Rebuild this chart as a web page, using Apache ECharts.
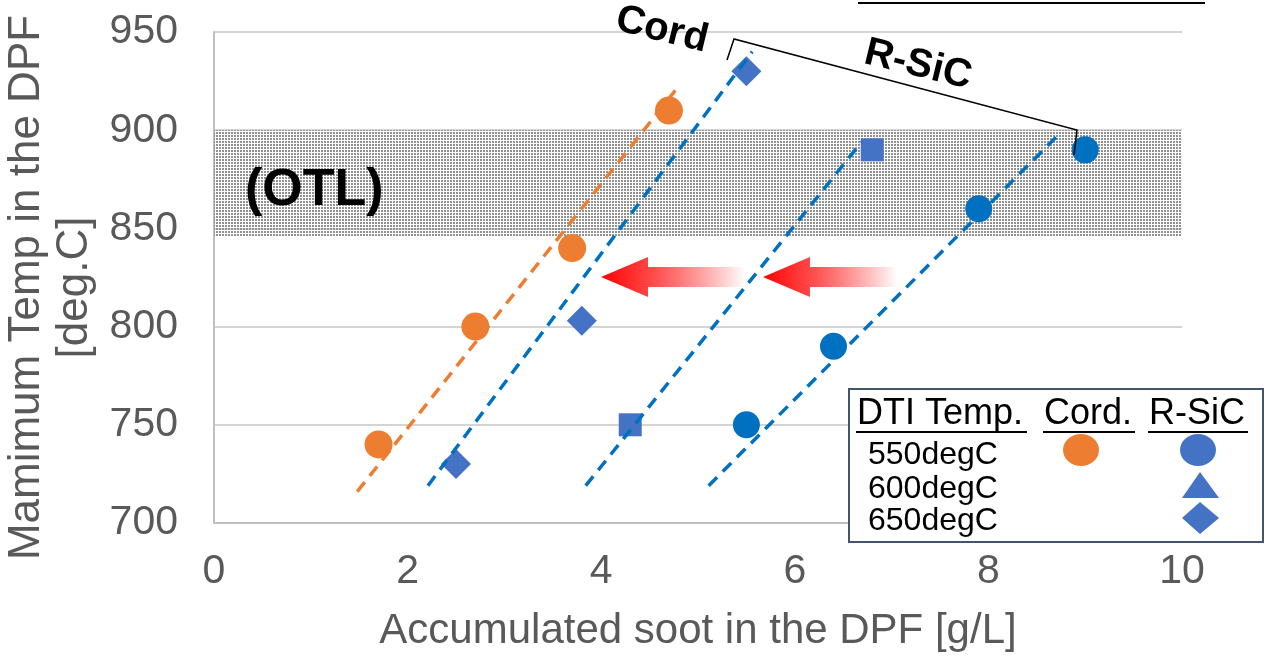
<!DOCTYPE html>
<html>
<head>
<meta charset="utf-8">
<script src="https://cdn.jsdelivr.net/npm/echarts@6/dist/echarts.min.js"></script>
<style>
  html, body { margin: 0; padding: 0; background: #fff; }
  #chart { width: 1267px; height: 663px; }
</style>
</head>
<body>
<div id="chart"></div>
<script>
// measured points
var cordX = [1.7, 2.7, 3.7, 4.7];
var cordY = [740, 800, 840, 910];
var sic550X = [5.5, 6.4, 7.9, 9.0];
var sic550Y = [750, 790, 860, 890];
var sic600X = [4.3, 6.8];
var sic600Y = [750, 890];
var sic650X = [2.5, 3.8, 5.5];
var sic650Y = [730, 803, 930];

// dashed trend lines, end points
var cordTrendX = [1.48, 4.81];
var cordTrendY = [716, 923];
var sic650TrendX = [2.21, 5.56];
var sic650TrendY = [719, 940];
var sic600TrendX = [3.84, 6.69];
var sic600TrendY = [719, 894];
var sic550TrendX = [5.11, 8.71];
var sic550TrendY = [719, 897];

// OTL band
var otlBand = [846, 900];

var xTicks = [0, 2, 4, 6, 8, 10];
var yTicks = [700, 750, 800, 850, 900, 950];

var orange = '#ED7D31';
var blue = '#4472C4';
var blueDark = '#0070C0';
var grey = '#595959';
var font = '"Liberation Sans", Arial, sans-serif';

function pairs(xs, ys) {
  return xs.map(function(x, i) { return [x, ys[i]]; });
}

// dotted fill for the OTL band
var dots = document.createElement('canvas');
dots.width = 3; dots.height = 3;
var dctx = dots.getContext('2d');
dctx.fillStyle = '#909090';
dctx.fillRect(0, 0, 2, 2);

function trend(xs, ys, color) {
  return {
    type: 'line',
    data: pairs(xs, ys),
    symbol: 'none',
    z: 5,
    silent: true,
    lineStyle: { color: color, width: 3.5, type: [12, 8] }
  };
}

function arrow(tip, base, tail, cy) {
  return {
    type: 'polygon',
    z: 100,
    shape: { points: [
      [tip, cy], [base, cy - 20], [base, cy - 10], [tail, cy - 10],
      [tail, cy + 10], [base, cy + 10], [base, cy + 20]
    ] },
    style: {
      fill: new echarts.graphic.LinearGradient(0, 0, 1, 0, [
        { offset: 0, color: '#ff0000' },
        { offset: 0.35, color: 'rgba(255,40,40,0.85)' },
        { offset: 1, color: 'rgba(255,0,0,0)' }
      ])
    }
  };
}

function txt(x, y, s, size, opts) {
  opts = opts || {};
  return {
    type: 'text', x: x, y: y, z: 101,
    rotation: opts.rotation || 0,
    style: {
      text: s,
      font: (opts.bold ? 'bold ' : '') + size + 'px ' + font,
      fill: '#000',
      textAlign: opts.align || 'left',
      textVerticalAlign: 'middle'
    }
  };
}

function hline(x1, x2, y) {
  return { type: 'line', z: 101, shape: { x1: x1, y1: y, x2: x2, y2: y }, style: { stroke: '#000', lineWidth: 2 } };
}

var chart = echarts.init(document.getElementById('chart'), null, { renderer: 'canvas' });
chart.setOption({
  animation: false,
  grid: { left: 214, right: 85, top: 32, bottom: 140, outerBoundsMode: 'none' },
  xAxis: {
    type: 'value',
    min: xTicks[0], max: xTicks[xTicks.length - 1], interval: 2,
    name: 'Accumulated soot in the DPF [g/L]',
    nameLocation: 'middle',
    nameGap: 87,
    nameTextStyle: { color: grey, fontSize: 42, fontFamily: font },
    axisLabel: { color: grey, fontSize: 41, fontFamily: font, margin: 28 },
    axisLine: { lineStyle: { color: '#bfbfbf', width: 2 } },
    axisTick: { show: false },
    splitLine: { show: false }
  },
  yAxis: {
    type: 'value',
    min: yTicks[0], max: yTicks[yTicks.length - 1], interval: 50,
    name: 'Mamimum Temp in the DPF\n[deg.C]',
    nameLocation: 'middle',
    nameGap: 115,
    nameRotate: 90,
    nameTextStyle: { color: grey, fontSize: 44, fontFamily: font, lineHeight: 48, padding: [0, 20, 0, 0] },
    axisLabel: { color: grey, fontSize: 41, fontFamily: font, margin: 36 },
    axisLine: { show: true, lineStyle: { color: '#bfbfbf', width: 2 } },
    axisTick: { show: false },
    splitLine: { lineStyle: { color: '#d4d4d4', width: 2 } }
  },
  series: [
    {
      type: 'scatter', data: [], z: 1, silent: true,
      markArea: {
        silent: true,
        itemStyle: { color: { image: dots, repeat: 'repeat' } },
        data: [[{ yAxis: otlBand[0] }, { yAxis: otlBand[1] }]]
      }
    },
    { type: 'scatter', data: pairs(cordX, cordY), symbol: 'circle', symbolSize: 28, z: 3, itemStyle: { color: orange, opacity: 1 } },
    { type: 'scatter', data: pairs(sic550X, sic550Y), symbol: 'circle', symbolSize: 27, z: 3, itemStyle: { color: blueDark, opacity: 1 } },
    { type: 'scatter', data: pairs(sic600X, sic600Y), symbol: 'rect', symbolSize: 23, z: 3, itemStyle: { color: blue, opacity: 1 } },
    { type: 'scatter', data: pairs(sic650X, sic650Y), symbol: 'diamond', symbolSize: 30, z: 3, itemStyle: { color: blue, opacity: 1 } },
    trend(cordTrendX, cordTrendY, orange),
    trend(sic650TrendX, sic650TrendY, blueDark),
    trend(sic600TrendX, sic600TrendY, blueDark),
    trend(sic550TrendX, sic550TrendY, blueDark)
  ],
  graphic: [
    // cut-off heading underline
    { type: 'line', shape: { x1: 858, y1: 3, x2: 1205, y2: 3 }, style: { stroke: '#000', lineWidth: 2 } },
    txt(245, 191, '(OTL)', 52, { bold: true }),
    txt(662, 30, 'Cord', 40, { bold: true, align: 'center', rotation: -0.24 }),
    txt(918, 65, 'R-SiC', 40, { bold: true, align: 'center', rotation: -0.24 }),
    {
      type: 'polyline', z: 100,
      shape: { points: [[727, 60], [734, 39], [1077, 130], [1074, 155]] },
      style: { stroke: '#000', lineWidth: 1.5, fill: null }
    },
    arrow(601, 648, 745, 277),
    arrow(763, 810, 897, 277),
    // legend table
    { type: 'rect', z: 100, shape: { x: 849, y: 389, width: 414, height: 153 }, style: { fill: '#fff', stroke: '#44546A', lineWidth: 2 } },
    txt(857, 414, 'DTI Temp.', 36),
    txt(1044, 414, 'Cord.', 36),
    txt(1149, 414, 'R-SiC', 36),
    hline(856, 1027, 432),
    hline(1043, 1135, 432),
    hline(1148, 1248, 432),
    txt(868, 455, '550degC', 32),
    txt(868, 489, '600degC', 32),
    txt(868, 521, '650degC', 32),
    { type: 'ellipse', z: 101, shape: { cx: 1081, cy: 450, rx: 18, ry: 16 }, style: { fill: orange } },
    { type: 'ellipse', z: 101, shape: { cx: 1198, cy: 450, rx: 18, ry: 16 }, style: { fill: blue } },
    { type: 'polygon', z: 101, shape: { points: [[1200, 472], [1219, 498], [1182, 498]] }, style: { fill: blue } },
    { type: 'polygon', z: 101, shape: { points: [[1200, 502], [1219, 518], [1200, 534], [1182, 518]] }, style: { fill: blue } }
  ]
});
window.addEventListener('resize', function() { chart.resize(); });
</script>
</body>
</html>
